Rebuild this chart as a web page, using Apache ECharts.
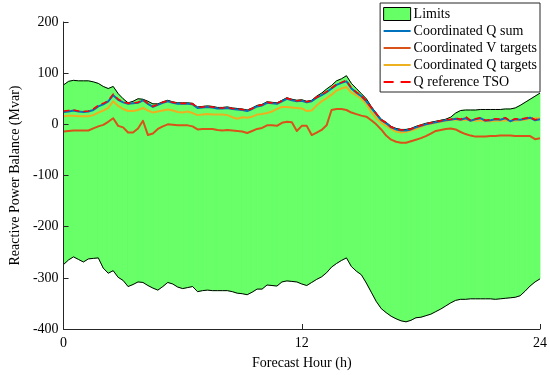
<!DOCTYPE html>
<html>
<head>
<meta charset="utf-8">
<script src="https://cdn.jsdelivr.net/npm/echarts@6/dist/echarts.min.js"></script>
<style>
html,body{margin:0;padding:0;background:#fff;}
#chart{width:550px;height:375px;}
</style>
</head>
<body>
<div id="chart"></div>
<script>
// Forecast hours on a 15-minute grid (0 .. 24 h)
const hours = Array.from({length: 97}, (_, i) => i * 0.25);

const upperLimit = [
  77,84,86,85,85,85,83,80,74,70,74,60,
  50,42,45,50,49,45,40,40,44,47,44,42,
  42,42,41,34,35,36,35,33,33,34,32,31,
  30,28,32,37,39,44,43,42,47,52,49,47,
  48,45,47,55,61,69,76,85,89,95,80,70,
  60,50,35,22,10,4,-4,-8,-10,-10,-8,-4,
  -1,2,4,6,8,10,14,22,27,28,28,28,
  29,29,29,29,29,30,30,32,37,43,49,55,
  61];
const lowerLimit = [
  -274,-265,-259,-264,-269,-263,-262,-261,-281,-291,-286,-299,
  -305,-317,-313,-308,-309,-315,-320,-324,-317,-309,-312,-318,
  -321,-319,-317,-327,-325,-324,-325,-325,-325,-325,-327,-330,
  -331,-333,-328,-322,-322,-314,-315,-316,-308,-306,-307,-308,
  -312,-315,-309,-303,-298,-290,-279,-272,-266,-261,-278,-287,
  -294,-310,-328,-346,-360,-368,-375,-380,-384,-386,-383,-378,
  -377,-374,-371,-366,-361,-355,-349,-344,-342,-342,-341,-341,
  -341,-341,-341,-342,-341,-340,-339,-338,-335,-326,-316,-308,
  -302];
const qSum = [
  24,25,27,25,24,25,28,35,39,45,57,48,
  43,40,41,42,47,40,34,38,42,45,42,40,
  40,40,39,32,33,34,33,31,31,32,30,29,
  28,26,30,35,37,42,41,40,45,50,47,45,
  46,43,45,52,57,63,70,77,81,84,70,62,
  55,45,32,20,8,2,-6,-10,-12,-12,-10,-6,
  -3,0,2,4,6,8,9,11,9,12,7,10,
  12,7,8,10,9,12,6,10,9,11,13,8,
  10];
const vTargets = [
  -14,-13,-12,-12,-12,-12,-8,-4,-1,5,12,-3,
  -6,-16,-16,-8,7,-21,-18,-9,-4,0,-1,-2,
  -2,-2,-4,-10,-9,-9,-9,-11,-12,-11,-12,-13,
  -14,-17,-13,-9,-7,-2,-2,-3,3,5,4,-13,
  -3,-3,-21,-16,-11,-2,28,30,30,28,23,20,
  17,15,8,0,-10,-22,-30,-34,-36,-36,-33,-30,
  -27,-23,-18,-13,-11,-9,-8,-10,-15,-19,-22,-24,
  -24,-24,-23,-23,-22,-22,-22,-23,-23,-23,-23,-29,
  -27];
const qTargets = [
  16,17,17,16,16,16,18,23,27,32,45,36,
  30,26,26,28,32,27,23,25,27,29,27,24,
  23,25,22,18,19,20,19,19,19,18,14,11,
  14,13,15,19,20,22,25,30,34,34,33,32,
  31,26,27,37,45,51,58,66,70,73,62,57,
  50,40,24,12,3,-3,-9,-14,-16,-15,-12,-9,
  -5,-1,1,3,5,7,9,9,8,9,8,7,
  8,6,6,7,7,8,7,7,8,9,11,12,
  12];
const qRefTSO = [
  26,27,28,26,25,26,30,37,41,46,59,49,
  44,41,42,43,48,41,35,39,43,46,43,41,
  41,41,40,33,34,35,34,32,32,33,31,30,
  29,27,31,36,38,43,42,41,46,51,48,46,
  47,44,46,53,58,64,71,78,82,86,71,63,
  56,46,33,21,9,3,-5,-9,-11,-11,-9,-5,
  -2,1,3,5,7,9,10,12,10,15,8,11,
  13,8,9,11,10,13,7,11,10,12,14,9,
  11];

const xTicks = [0, 12, 24];
const yTicks = [-400, -300, -200, -100, 0, 100, 200];

const pairs = arr => hours.map((h, i) => [h, arr[i]]);
const bandData = hours.map((h, i) => [h, upperLimit[i], lowerLimit[i]]);

const FONT = 'Liberation Serif';
const AX = '#262626';
const GREEN = '#66ff66';
const GREEN_FILL = 'rgba(102,255,102,0.99)';

function lineSeries(name, arr, color, width, dash, z) {
  const data = pairs(arr);
  return {
    name: name, type: 'custom', data: data, z: z, silent: true,
    encode: {x: 0, y: 1},
    itemStyle: {color: color},
    renderItem: function (params, api) {
      if (params.dataIndex !== 0) return null;
      const pts = data.map(d => api.coord([d[0], d[1]]));
      return {
        type: 'polyline',
        shape: {points: pts},
        style: {stroke: color, lineWidth: width, fill: null, lineDash: dash || null, lineJoin: 'round'}
      };
    }
  };
}

const chart = echarts.init(document.getElementById('chart'), null, {renderer: 'canvas'});
chart.setOption({
  animation: false,
  backgroundColor: '#ffffff',
  textStyle: {fontFamily: FONT},
  grid: {left: 54, right: 10, top: 22, bottom: 43, containLabel: false},
  xAxis: {
    type: 'value', min: xTicks[0], max: xTicks[xTicks.length - 1], interval: 12, z: 10,
    name: 'Forecast Hour (h)', nameLocation: 'middle', nameGap: 27,
    nameTextStyle: {fontFamily: FONT, fontSize: 14, color: '#000'},
    axisLine: {show: true, onZero: false, lineStyle: {color: AX, width: 1}},
    axisTick: {show: true, inside: true, length: 5, lineStyle: {color: AX}},
    axisLabel: {fontFamily: FONT, fontSize: 14, color: '#000', margin: 7},
    splitLine: {show: false}
  },
  yAxis: {
    type: 'value', min: yTicks[0], max: yTicks[yTicks.length - 1], interval: 100, z: 10,
    name: 'Reactive Power Balance (Mvar)', nameLocation: 'middle', nameGap: 33,
    nameTextStyle: {fontFamily: FONT, fontSize: 14, color: '#000'},
    axisLine: {show: true, onZero: false, lineStyle: {color: AX, width: 1}},
    axisTick: {show: true, inside: true, length: 5, lineStyle: {color: AX}},
    axisLabel: {fontFamily: FONT, fontSize: 14, color: '#000', margin: 5},
    splitLine: {show: false}
  },
  legend: {
    orient: 'vertical', right: 10, top: 3, z: 20,
    backgroundColor: '#ffffff', borderColor: AX, borderWidth: 1,
    padding: [4, 3, 3, 3], itemGap: 3, itemWidth: 27, itemHeight: 13,
    textStyle: {fontFamily: FONT, fontSize: 14, color: '#000', padding: [0, 0, 0, -2]},
    data: [
      {name: 'Limits', icon: 'rect', itemStyle: {color: GREEN, borderColor: '#000', borderWidth: 1}},
      {name: 'Coordinated Q sum', icon: 'path://M0,0H27V2H0Z', itemStyle: {color: '#0072BD'}},
      {name: 'Coordinated V targets', icon: 'path://M0,0H27V2H0Z', itemStyle: {color: '#D95319'}},
      {name: 'Coordinated Q targets', icon: 'path://M0,0H27V2H0Z', itemStyle: {color: '#EDB120'}},
      {name: 'Q reference TSO', icon: 'path://M0,0H10V2H0Z M17,0H27V2H17Z', itemStyle: {color: '#FF0000'}}
    ]
  },
  series: [
    {
      // band between the limits, one quadrilateral per 15-minute step
      name: 'Limits', type: 'custom', data: bandData, silent: true, z: 1,
      encode: {x: 0, y: [1, 2]},
      itemStyle: {color: GREEN},
      renderItem: function (params, api) {
        const i = params.dataIndex;
        if (i >= bandData.length - 1) return null;
        const a = bandData[i], b = bandData[i + 1];
        const p1 = api.coord([a[0], a[1]]);
        const p2 = api.coord([b[0], b[1]]);
        const p3 = api.coord([b[0], b[2]]);
        const p4 = api.coord([a[0], a[2]]);
        return {
          type: 'polygon',
          shape: {points: [p1, p2, p3, p4]},
          style: {fill: GREEN_FILL, stroke: GREEN_FILL, lineWidth: 0.8}
        };
      }
    },
    lineSeries('upper bound', upperLimit, '#000000', 1, null, 2),
    lineSeries('lower bound', lowerLimit, '#000000', 1, null, 2),
    lineSeries('Coordinated Q targets', qTargets, '#EDB120', 2, null, 3),
    lineSeries('Coordinated V targets', vTargets, '#D95319', 2, null, 3),
    lineSeries('Coordinated Q sum', qSum, '#0072BD', 2, null, 3),
    lineSeries('Q reference TSO', qRefTSO, '#FF0000', 1.6, [6, 4], 4)
  ]
});
</script>
</body>
</html>
